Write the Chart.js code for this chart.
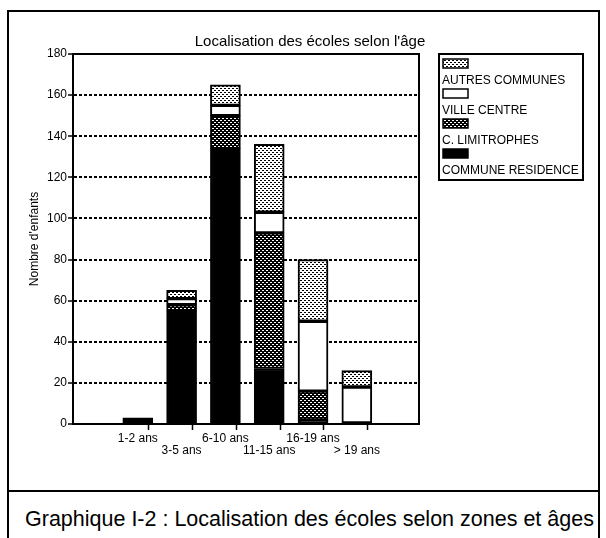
<!DOCTYPE html>
<html>
<head>
<meta charset="utf-8">
<script src="https://cdn.jsdelivr.net/npm/chart.js@4/dist/chart.umd.min.js"></script>
<style>
  body { margin: 0; background: #fff; }
  #wrap { position: relative; width: 606px; height: 538px; overflow: hidden; background: #fff; }
  .frame { position: absolute; left: 7px; top: 10px; width: 589px; height: 560px; border: 2px solid #000; }
  .sep { position: absolute; left: 7px; top: 490px; width: 593px; height: 2px; background: #000; }
  .caption { position: absolute; left: 25px; top: 507px; line-height: 22px; font: 21.5px 'Liberation Sans', Arial, sans-serif; color: #000; white-space: nowrap; }
  #c { position: absolute; left: 0; top: 0; }
</style>
</head>
<body>
<div id="wrap">
  <div class="frame"></div>
  <div class="sep"></div>
  <div class="caption">Graphique I-2 : Localisation des écoles selon zones et âges</div>
  <canvas id="c" width="606" height="488"></canvas>
</div>
<script>
const chartTitle = "Localisation des écoles selon l'âge";
const yTitle = "Nombre d'enfants";
const categories = ['1-2 ans', '3-5 ans', '6-10 ans', '11-15 ans', '16-19 ans', '> 19 ans'];
const communeResidence = [3, 55, 134, 27, 2, 0];
const cLimitrophes = [0, 3, 16, 66, 14, 0];
const villeCentre = [0, 3, 5, 10, 34, 18];
const autresCommunes = [0, 4, 10, 33, 30, 8];
const seriesNames = ['COMMUNE RESIDENCE', 'C. LIMITROPHES', 'VILLE CENTRE', 'AUTRES COMMUNES'];

const FONT = "'Liberation Sans', Arial, Helvetica, sans-serif";
Chart.defaults.font.family = FONT;
Chart.defaults.color = '#000';

// little tiled fills like the old printer patterns
function makePattern(bg, fg, dots) {
  const c = document.createElement('canvas');
  c.width = 4; c.height = 4;
  const x = c.getContext('2d');
  x.fillStyle = bg;
  x.fillRect(0, 0, 4, 4);
  x.fillStyle = fg;
  dots.forEach(([a, b]) => x.fillRect(a, b, 1, 1));
  return x.createPattern(c, 'repeat');
}
const dotsSet = [[0, 0], [1, 0], [2, 2], [3, 2]];
const lightFill = makePattern('#fff', '#000', dotsSet);
const darkFill = makePattern('#000', '#fff', dotsSet);
const fills = ['#000', darkFill, '#fff', lightFill];

const toPoints = arr => arr.map((v, i) => ({ x: i, y: v }));
const seriesData = [communeResidence, cLimitrophes, villeCentre, autresCommunes];

const datasets = seriesData.map((arr, k) => ({
  label: seriesNames[k],
  data: toPoints(arr),
  backgroundColor: fills[k],
  borderColor: '#000',
  borderWidth: 2,
  borderSkipped: false,
  barThickness: 30
}));

const tickVal = c => (c.tick ? c.tick.value : NaN);

// title, box round the plot and the legend (swatch above its text)
const decorations = {
  id: 'decorations',
  afterDraw(chart) {
    const { ctx, chartArea: a } = chart;
    ctx.save();
    ctx.strokeStyle = '#000';
    ctx.lineWidth = 2;
    ctx.strokeRect(a.left, a.top, a.right - a.left, a.bottom - a.top);

    ctx.fillStyle = '#000';
    ctx.font = '15px ' + FONT;
    ctx.textAlign = 'center';
    ctx.textBaseline = 'middle';
    ctx.fillText(chartTitle, 310, 42);

    const lx = 439, ly = 54, lw = 144, lh = 126;
    ctx.strokeRect(lx, ly, lw, lh);
    ctx.font = '12px ' + FONT;
    ctx.textAlign = 'left';
    for (let i = 0; i < 4; i++) {
      const k = 3 - i;
      const sy = ly + 5 + i * 30;
      ctx.fillStyle = fills[k];
      ctx.fillRect(lx + 4, sy, 25, 9);
      ctx.lineWidth = 1.5;
      ctx.strokeRect(lx + 4, sy, 25, 9);
      ctx.fillStyle = '#000';
      ctx.fillText(seriesNames[k], lx + 3, sy + 22);
    }
    ctx.restore();
  }
};

new Chart(document.getElementById('c'), {
  type: 'bar',
  data: { datasets },
  options: {
    responsive: false,
    animation: false,
    events: [],
    layout: { padding: { left: 0, top: 54, right: 187, bottom: 0 } },
    plugins: {
      legend: { display: false },
      title: { display: false },
      tooltip: { enabled: false }
    },
    scales: {
      x: {
        type: 'linear',
        stacked: true,
        min: -1.12,
        max: 6.06,
        afterBuildTicks: scale => {
          const t = [];
          categories.forEach((c, i) => {
            t.push({ value: i });
            if (i < categories.length - 1) t.push({ value: i + 0.5 });
          });
          scale.ticks = t;
        },
        afterFit: scale => { scale.height = 64; },
        ticks: {
          autoSkip: false,
          maxRotation: 0,
          padding: 3,
          font: { size: 12, lineHeight: 1 },
          callback: v => {
            if (!Number.isInteger(v)) return '';
            return v % 2 === 0 ? categories[v] : ['', categories[v]];
          }
        },
        grid: {
          drawOnChartArea: false,
          tickLength: 6,
          tickWidth: 1.5,
          tickColor: c => Number.isInteger(tickVal(c)) ? 'rgba(0,0,0,0)' : '#000'
        },
        border: { color: '#000', width: 2 }
      },
      y: {
        stacked: true,
        min: 0,
        max: 180,
        afterFit: scale => { scale.width = 73; },
        ticks: { stepSize: 20, padding: 1, font: { size: 12 } },
        title: {
          display: true,
          text: yTitle,
          font: { size: 12 },
          padding: { top: 27, bottom: 0 }
        },
        grid: {
          lineWidth: 2,
          tickLength: 5,
          tickWidth: 1.5,
          tickColor: '#000',
          color: c => (tickVal(c) === 0 || tickVal(c) === 180) ? 'rgba(0,0,0,0)' : '#000'
        },
        border: { color: '#000', width: 2, dash: [3, 2] }
      }
    }
  },
  plugins: [decorations]
});
</script>
</body>
</html>
